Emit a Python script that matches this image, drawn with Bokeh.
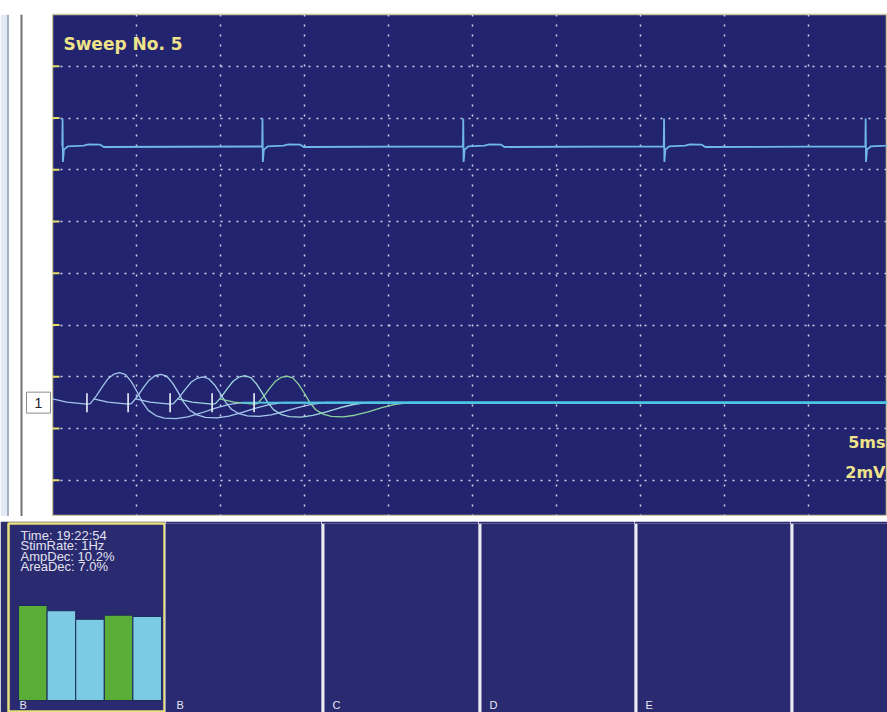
import numpy as np
from bokeh.plotting import figure
from bokeh.layouts import row, column
from bokeh.models import Range1d, FixedTicker, Grid, Label, Span, BoxAnnotation
from bokeh.core.properties import value
from bokeh.embed import file_html
from bokeh.resources import INLINE

# ---------------- data ----------------
time_end_ms = 49.70
grid_ms = [5, 10, 15, 20, 25, 30, 35, 40, 45]
grid_mv = [-2, -4, -6, -8, -10, -12, -14, -16, -18]

# upper channel: stimulus artefacts of the 5 sweeps (long time base)
top_baseline_mv = -5.1
stim_times_ms = [0.6, 12.5, 24.45, 36.4, 48.4]
artifact_t_ms = [-0.02, 0.0, 0.02, 0.08, 0.3, 1.25, 1.55, 2.25, 2.45]
artifact_mv = [0.0, 1.08, -0.6, -0.12, 0.0, 0.03, 0.08, 0.07, -0.02]

# lower channel: cascaded CMAP responses
lower_baseline_mv = -15.0
channel_label = "1"
sweep_onsets_ms = [2.05, 4.5, 7.0, 9.5, 12.0]
pre_t_ms = [-2.05, -1.2, 0.0]
pre_mv = [0.15, 0.02, -0.06]
resp_t_ms = [0.2, 0.55, 0.9, 1.25, 1.6, 1.95, 2.3, 2.65, 3.0, 3.3, 3.65, 4.1, 4.6, 5.3, 6.0, 6.8, 7.6, 8.4, 9.2]
resp_mv = [-0.04, 0.25, 0.6, 0.92, 1.1, 1.16, 1.08, 0.8, 0.4, 0.02, -0.3, -0.5, -0.6, -0.62, -0.55, -0.4, -0.22, -0.08, 0.0]
sweep_colors = ["#a2c4ea", "#a6c8ec", "#a6c8ec", "#a0d6de", "#8ed49e"]

# decrement bars (amplitude, % of first response)
bar_index = [1, 2, 3, 4, 5]
bar_amp_pct = [100, 94.5, 85.5, 89.8, 88.5]
bar_colors = ["#5aae38", "#7ccbe4", "#7ccbe4", "#5aae38", "#7ccbe4"]
info_lines = ["Time: 19:22:54", "StimRate: 1Hz", "AmpDec: 10.2%", "AreaDec: 7.0%"]
panel_letters = ["B", "B", "C", "D", "E", ""]
panel_widths = [165, 156, 157, 156, 156, 97]

NAVY = "#232470"
PANEL_NAVY = "#2a2a70"
BAND = "#a4a4cc"
YELLOW = "#efe38a"

y_range = Range1d(-19.4, 0)

# ---------------- left strip (channel marker) ----------------
strip = figure(width=52, height=516, output_backend="svg", toolbar_location=None,
               x_axis_location=None, y_axis_location=None,
               x_range=Range1d(0, 52), y_range=y_range,
               min_border_left=0, min_border_right=0, min_border_top=14, min_border_bottom=0,
               background_fill_color="white", border_fill_color="white",
               outline_line_color=None)
strip.grid.visible = False
strip.add_layout(BoxAnnotation(right=7, fill_color="#e4eaf4", fill_alpha=1, line_color=None))
strip.add_layout(Span(location=7.5, dimension="height", line_color="#8898b0", line_width=1.5))
strip.add_layout(Span(location=21, dimension="height", line_color="#727272", line_width=2))
strip.rect(x=[38], y=[lower_baseline_mv], width=24, height=21, width_units="screen",
           height_units="screen", fill_color="white", line_color="#8c8c8c", line_width=1)
strip.text(x=[38], y=[lower_baseline_mv], text=[channel_label], text_font=value("Liberation Sans"),
           text_font_size="14px", text_color="#222222", text_align="center",
           text_baseline="middle")

# ---------------- main trace figure ----------------
p = figure(width=835, height=516, output_backend="svg", toolbar_location=None,
           x_range=Range1d(0, time_end_ms), y_range=y_range,
           x_axis_location=None, y_axis_location=None,
           min_border_left=0, min_border_right=0, min_border_top=14, min_border_bottom=0,
           background_fill_color=NAVY, border_fill_color="white",
           outline_line_color="#c8c49c", outline_line_width=1.5)
p.grid.visible = False
p.add_layout(Grid(dimension=0, ticker=FixedTicker(ticks=grid_ms), grid_line_color="#d0d2e8",
                  grid_line_dash="2 8", grid_line_width=1.5))
p.add_layout(Grid(dimension=1, ticker=FixedTicker(ticks=grid_mv), grid_line_color="#d0d2e8",
                  grid_line_dash="2 6", grid_line_width=1.5))
# yellow division ticks on the left edge
p.scatter([0] * len(grid_mv), grid_mv, marker="dash", size=14, line_color="#e6dc6a", line_width=2)

# upper trace
tx, ty = [], []
for s in stim_times_ms:
    tx.extend([s + t for t in artifact_t_ms])
    ty.extend([top_baseline_mv + v for v in artifact_mv])
tx.append(time_end_ms)
ty.append(top_baseline_mv)
p.line(tx, ty, line_color="#70b6e8", line_width=1.8)

# lower cascaded sweeps
for onset, amp, col in zip(sweep_onsets_ms, bar_amp_pct, sweep_colors):
    xs = [onset + t for t in pre_t_ms] + [onset + t for t in resp_t_ms] + [time_end_ms]
    ys = ([lower_baseline_mv + v for v in pre_mv]
          + [lower_baseline_mv + v * amp / 100.0 for v in resp_mv] + [lower_baseline_mv])
    p.line(xs, ys, line_color=col, line_width=1.3)
for onset in sweep_onsets_ms:
    p.line([onset + resp_t_ms[-1], time_end_ms], [lower_baseline_mv, lower_baseline_mv],
           line_color="#4ec6e2", line_width=1.7)
p.scatter(sweep_onsets_ms, [lower_baseline_mv] * len(sweep_onsets_ms), marker="dash",
          angle=np.pi / 2, size=19, line_color="#eef2fa", line_width=1.6)

p.add_layout(Label(x=0.65, y=-1.13, text="Sweep No. 5", text_font="DejaVu Sans",
                   text_font_style="bold", text_font_size="17px", text_color=YELLOW,
                   text_baseline="alphabetic"))
p.add_layout(Label(x=49.58, y=-16.54, text="5ms", text_font="DejaVu Sans",
                   text_font_style="bold", text_font_size="16px", text_color=YELLOW,
                   text_align="right", text_baseline="alphabetic"))
p.add_layout(Label(x=49.58, y=-17.35, text="2mV", text_font="DejaVu Sans",
                   text_font_style="bold", text_font_size="16px", text_color=YELLOW,
                   text_align="right", text_baseline="top"))

# ---------------- separator band ----------------
band = figure(width=887, height=5, output_backend="svg", toolbar_location=None,
              x_axis_location=None, y_axis_location=None, min_border=0,
              background_fill_color=BAND, border_fill_color=BAND, outline_line_color=None,
              x_range=Range1d(0, 1), y_range=Range1d(0, 1))
band.grid.visible = False

# ---------------- bottom panels ----------------
panels = []
for i, (w, letter) in enumerate(zip(panel_widths, panel_letters)):
    if i == 0:
        q = figure(width=w, height=191, output_backend="svg", toolbar_location=None,
                   x_range=Range1d(0.15, 5.64), y_range=Range1d(-12.63, 186.32),
                   x_axis_location=None, y_axis_location=None,
                   min_border_left=8, min_border_right=0, min_border_top=2, min_border_bottom=0,
                   background_fill_color=PANEL_NAVY, border_fill_color="#2c2c6a",
                   outline_line_color="#e8e07a", outline_line_width=2.5)
        q.grid.visible = False
        q.vbar(x=bar_index, top=bar_amp_pct, bottom=0, width=1.0, fill_color=bar_colors,
               line_color="#1c2a5c", line_width=1)
        for k, txt in enumerate(info_lines):
            q.add_layout(Label(x=0.57, y=173.7 - 10.84 * k, text=txt, text_font="Liberation Sans",
                               text_font_size="13px", text_color="#e2e2ee",
                               text_baseline="alphabetic"))
        q.add_layout(Label(x=0.535, y=-11.3, text=letter, text_font="Liberation Sans",
                           text_font_size="11px", text_color="#e8e8f0",
                           text_baseline="bottom"))
    else:
        q = figure(width=w, height=191, output_backend="svg", toolbar_location=None,
                   x_range=Range1d(0, w), y_range=Range1d(0, 191),
                   x_axis_location=None, y_axis_location=None,
                   min_border_left=0, min_border_right=0, min_border_top=0, min_border_bottom=0,
                   background_fill_color=PANEL_NAVY, border_fill_color=PANEL_NAVY,
                   outline_line_color=None)
        q.grid.visible = False
        if i >= 2:
            q.add_layout(Span(location=1.5, dimension="height", line_color="#ececf4", line_width=3))
        if letter:
            q.add_layout(Label(x=11, y=1.5, text=letter, text_font="Liberation Sans",
                               text_font_size="11px", text_color="#e8e8f0",
                               text_baseline="bottom"))
    panels.append(q)

layout = column(row(strip, p), band, row(*panels))
open("out.html", "w").write(file_html(layout, INLINE))
